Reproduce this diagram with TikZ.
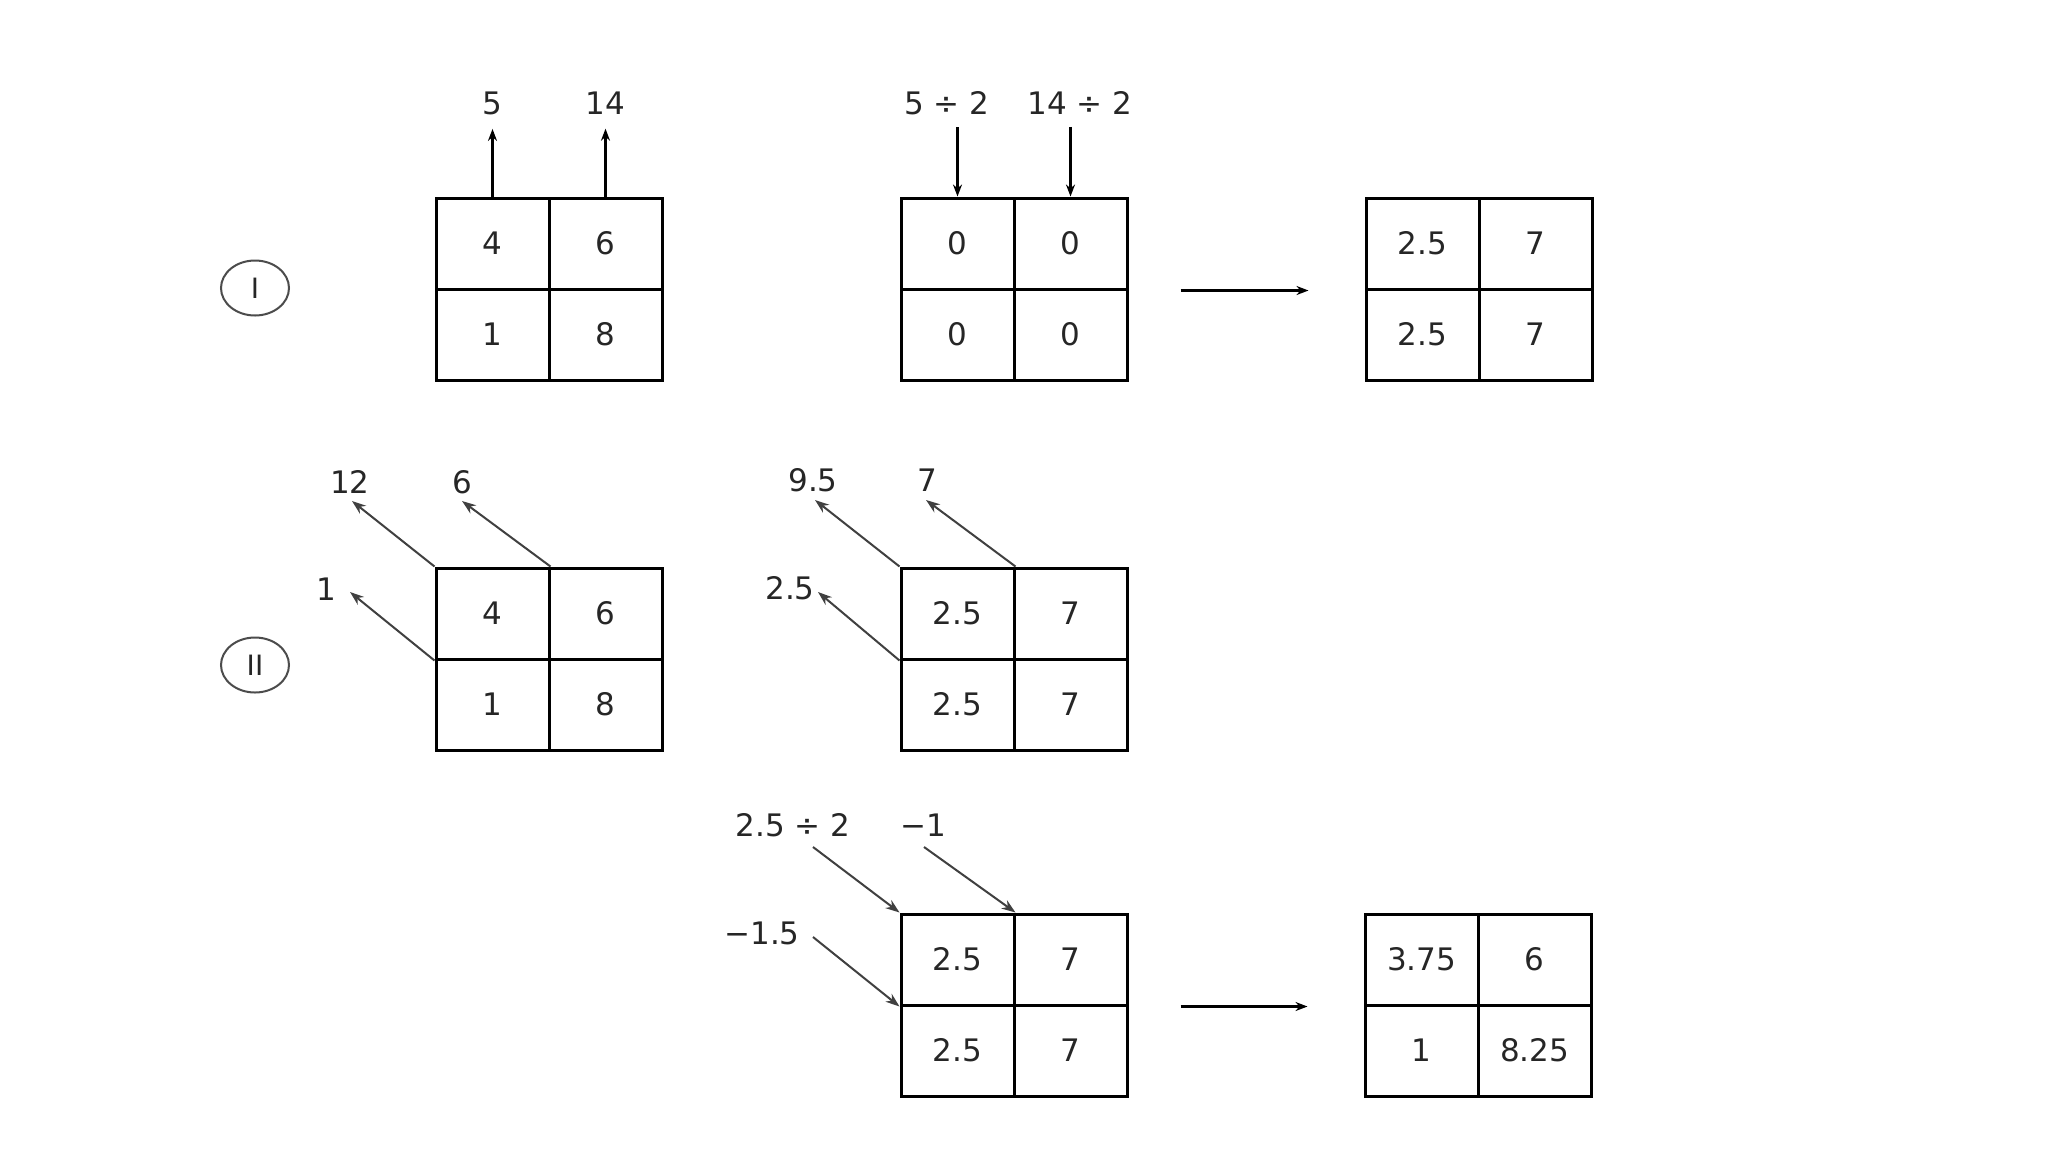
\documentclass[tikz,border=0pt]{standalone}
\usepackage{fontspec}
\setmainfont{DejaVu Sans}
\usetikzlibrary{arrows.meta,shapes.geometric}
\newcommand\cellgrid[7]{%
  \node[cell] (#1a) at ({#2+56.5},{#3+45.5}) {#4};
  \node[cell] (#1b) at ({#2+169.5},{#3+45.5}) {#5};
  \node[cell] (#1c) at ({#2+56.5},{#3+136.5}) {#6};
  \node[cell] (#1d) at ({#2+169.5},{#3+136.5}) {#7};
}
\begin{document}
\begin{tikzpicture}[x=0.5pt,y=-0.5pt,
  cell/.style={draw=black,line width=1.5pt,minimum width=56.5pt,minimum height=45.5pt,inner sep=0pt,font=\fontsize{15.5}{17}\selectfont,text=black!85},
  lab/.style={inner sep=0pt,font=\fontsize{15.5}{17}\selectfont,text=black!85},
  varr/.style={-{Stealth[length=6pt,width=4.5pt]},line width=1.2pt},
  darr/.style={-{Stealth[length=7pt,width=5pt]},line width=1pt,draw=black!75},
  harr/.style={-{Stealth[length=6pt,width=4.5pt]},line width=1.1pt},
  roman/.style={ellipse,draw=black!70,line width=1pt,minimum width=34pt,minimum height=27.5pt,inner sep=0pt,font=\fontsize{14}{16}\selectfont,text=black!85}]
\useasboundingbox[fill=white] (0,0) rectangle (2048,1152);

% roman numerals
\node[roman] (cI) at (255,288) {I};
\node[roman] (cII) at (255,665) {II};

% grids
\cellgrid{ga}{436}{198}{4}{6}{1}{8}
\cellgrid{gb}{901}{198}{0}{0}{0}{0}
\cellgrid{gc}{1366}{198}{2.5}{7}{2.5}{7}
\cellgrid{gd}{436}{568}{4}{6}{1}{8}
\cellgrid{ge}{901}{568}{2.5}{7}{2.5}{7}
\cellgrid{gf}{901}{914}{2.5}{7}{2.5}{7}
\cellgrid{gg}{1365}{914}{3.75}{6}{1}{8.25}

% row I labels and arrows
\node[lab] (l5) at (492,103) {5};
\node[lab] (l14) at (605,103) {14};
\draw[varr,shorten >=7pt] (gaa.north) -- (gaa.north |- l5.south);
\draw[varr,shorten >=7pt] (gab.north) -- (gab.north |- l14.south);

\node[lab] (l52) at (947,103) {5 ÷ 2};
\node[lab] (l142) at (1080,103) {14 ÷ 2};
\draw[varr,shorten <=6pt] (gba.north |- l52.south) -- (gba.north);
\draw[varr,shorten <=6pt] (gbb.north |- l142.south) -- (gbb.north);

\draw[harr,shorten <=26pt,shorten >=28pt] (gbb.south east) -- (gca.south west);

% row II
\node[lab] (l12) at (350,482) {12};
\node[lab] (l6) at (462,482) {6};
\node[lab] (l1) at (326,589) {1};
\coordinate (t12) at (352,501);
\coordinate (t6) at (462,501);
\coordinate (t1) at (350,592);
\draw[darr] (gda.north west) -- (t12);
\draw[darr] (gda.north east) -- (t6);
\draw[darr] (gda.south west) -- (t1);

\node[lab] (l95) at (813,480) {9.5};
\node[lab] (l7) at (927,480) {7};
\node[lab] (l25) at (790,588) {2.5};
\coordinate (t95) at (815,500);
\coordinate (t7) at (926,500);
\coordinate (t25) at (818,592);
\draw[darr] (gea.north west) -- (t95);
\draw[darr] (gea.north east) -- (t7);
\draw[darr] (gea.south west) -- (t25);

% row III
\node[lab] (l252) at (793,825) {2.5 ÷ 2};
\node[lab] (lm1) at (923,825) {−1};
\node[lab] (lm15) at (762,933) {−1.5};
\coordinate (s1) at (813,847);
\coordinate (s2) at (924,847);
\coordinate (s3) at (813,937);
\draw[darr] (s1) -- (gfa.north west);
\draw[darr] (s2) -- (gfa.north east);
\draw[darr] (s3) -- (gfa.south west);

\draw[harr,shorten <=26pt,shorten >=28pt] (gfb.south east) -- (gga.south west);
\end{tikzpicture}
\end{document}
